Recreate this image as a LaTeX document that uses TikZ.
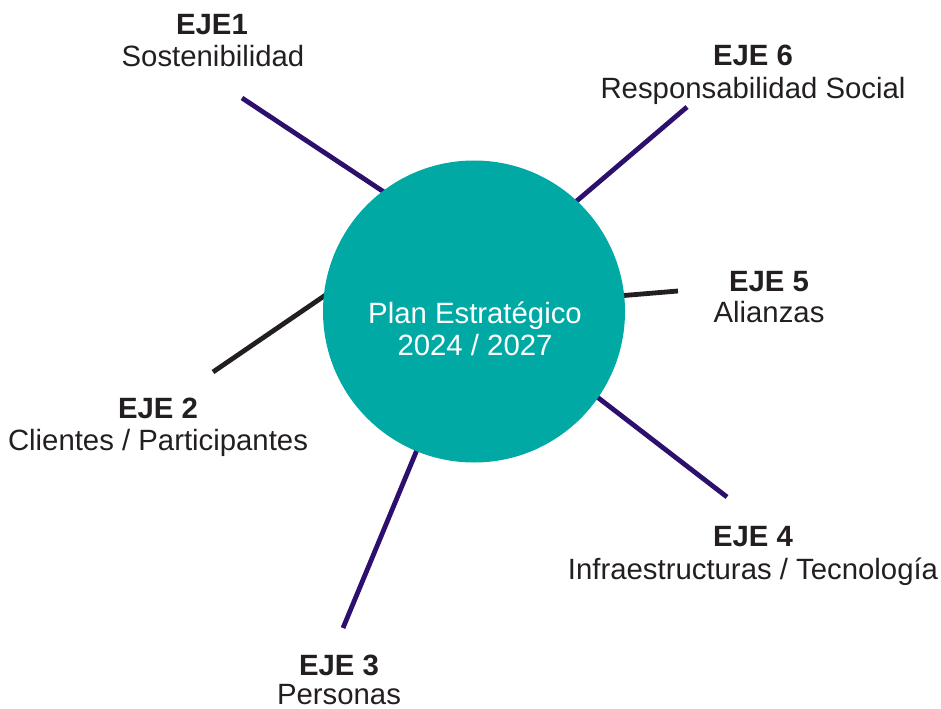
\documentclass[tikz,border=0pt]{standalone}
\usepackage{fontspec}
\setmainfont{Liberation Sans}
\definecolor{teal1}{RGB}{0,169,164}
\definecolor{purp}{RGB}{45,15,110}
\definecolor{ink}{RGB}{35,31,32}
\begin{document}
\begin{tikzpicture}[x=0.75pt,y=-0.75pt,
  hub/.style={circle,fill=teal1,draw=none,minimum size=302*0.75pt,inner sep=0pt},
  ttl/.style={anchor=base,inner sep=0pt,text=ink,font=\fontsize{22}{26}\selectfont\bfseries},
  sub/.style={anchor=base,inner sep=0pt,text=ink,font=\fontsize{22}{26}\selectfont},
  ctr/.style={anchor=base,inner sep=0pt,text=white,font=\fontsize{22}{26}\selectfont},
  pline/.style={draw=purp,line width=3.6pt},
  kline/.style={draw=ink,line width=3.6pt}]
\useasboundingbox (0,0) rectangle (941,709);
% connector end points
\coordinate (a1) at (242,98);  \coordinate (b1) at (390,196);
\coordinate (a6) at (687,107); \coordinate (b6) at (572,205);
\coordinate (a5) at (678,291); \coordinate (b5) at (618,296);
\coordinate (a2) at (213,372); \coordinate (b2) at (330,292);
\coordinate (a4) at (727,497); \coordinate (b4) at (592,393);
\coordinate (a3) at (343,628); \coordinate (b3) at (419,445);
\draw[pline] (a1) -- (b1);
\draw[pline] (a6) -- (b6);
\draw[kline] (a5) -- (b5);
\draw[kline] (a2) -- (b2);
\draw[pline] (a4) -- (b4);
\draw[pline] (a3) -- (b3);
\node[hub] (plan) at (474,311.5) {};
\node[ctr] (c1) at (475,323) {Plan Estratégico};
\node[ctr] (c2) at (475,355) {2024 / 2027};
% labels
\node[ttl] (t1) at (212,35) {EJE1};
\node[sub] (s1) at (213,67) {Sostenibilidad};
\node[ttl] (t6) at (753,66) {EJE 6};
\node[sub] (s6) at (753,99) {Responsabilidad Social};
\node[ttl] (t5) at (769,291) {EJE 5};
\node[sub] (s5) at (769,322) {Alianzas};
\node[ttl] (t2) at (158,418) {EJE 2};
\node[sub] (s2) at (158,450) {Clientes / Participantes};
\node[ttl] (t4) at (753,546) {EJE 4};
\node[sub] (s4) at (753,579) {Infraestructuras / Tecnología};
\node[ttl] (t3) at (339,675) {EJE 3};
\node[sub,text depth=0pt] (s3) at (339,704) {Personas};
\end{tikzpicture}
\end{document}
